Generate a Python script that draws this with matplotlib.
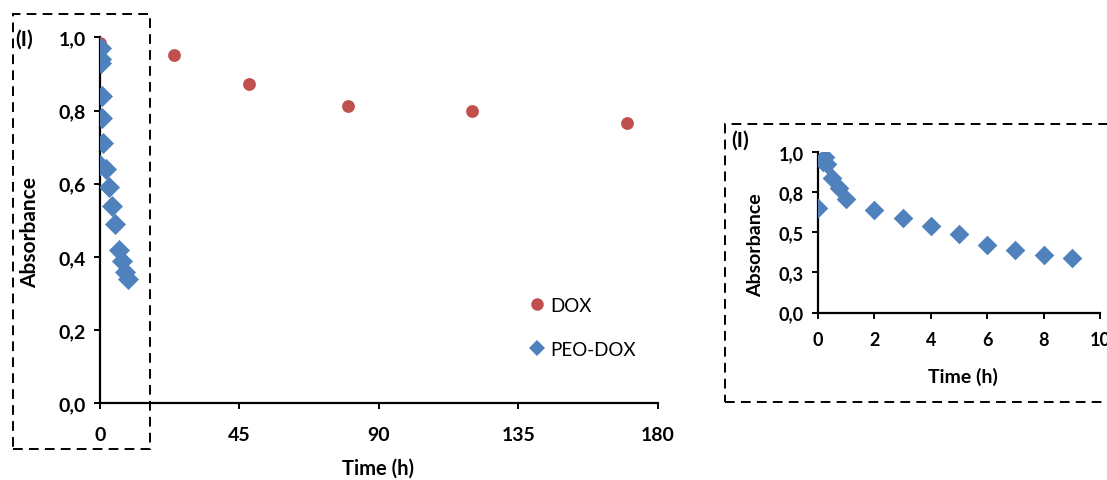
import matplotlib
matplotlib.use("Agg")
import matplotlib.pyplot as plt
from matplotlib.patches import Rectangle
from matplotlib.lines import Line2D
from decimal import Decimal, ROUND_HALF_UP

# Release data: absorbance over time
dox_time = [0, 24, 48, 80, 120, 170]
dox_abs = [0.985, 0.952, 0.872, 0.813, 0.798, 0.766]

peo_time = [0, 0.17, 0.25, 0.33, 0.5, 0.75, 1, 2, 3, 4, 5, 6, 7, 8, 9]
peo_abs = [0.65, 0.94, 0.97, 0.93, 0.84, 0.78, 0.71, 0.64, 0.59, 0.54,
           0.49, 0.42, 0.39, 0.36, 0.34]

main_xticks = [0, 45, 90, 135, 180]
main_yticks = [0.0, 0.2, 0.4, 0.6, 0.8, 1.0]
inset_xticks = [0, 2, 4, 6, 8, 10]
inset_yticks = [0.0, 0.25, 0.5, 0.75, 1.0]

RED = "#C0504D"
BLUE = "#4F81BD"
FONT = "Lato"

plt.rcParams["font.family"] = [FONT, "DejaVu Sans"]

W, H = 1107, 481
fig = plt.figure(figsize=(W / 100, H / 100), dpi=100)


def px_axes(left, top, right, bottom):
    return fig.add_axes([left / W, 1 - bottom / H, (right - left) / W, (bottom - top) / H])


def style_axes(ax, size):
    for s in ("top", "right"):
        ax.spines[s].set_visible(False)
    for s in ("left", "bottom"):
        ax.spines[s].set_linewidth(1.6)
        ax.spines[s].set_color("black")
    ax.tick_params(direction="out", length=4, width=1.4, colors="black",
                   labelsize=size, pad=6)
    for lbl in ax.get_xticklabels() + ax.get_yticklabels():
        lbl.set_fontweight("bold")


def comma(v, nd=1):
    q = Decimal(str(v)).quantize(Decimal(1).scaleb(-nd), rounding=ROUND_HALF_UP)
    return str(q).replace(".", ",")


# Main chart
ax = px_axes(100, 38.3, 657.7, 404.3)
ax.scatter(dox_time, dox_abs, s=85, marker="o", color=RED, zorder=3, linewidths=0)
ax.scatter(peo_time, peo_abs, s=115, marker="D", color=BLUE, zorder=4, linewidths=0)
ax.set_xlim(0, 180)
ax.set_ylim(0, 1.0)
ax.set_xticks(main_xticks)
ax.set_xticklabels([str(t) for t in main_xticks])
ax.set_yticks(main_yticks)
ax.set_yticklabels([comma(t) for t in main_yticks])
style_axes(ax, 14)
ax.xaxis.set_tick_params(pad=12)

fig.text(378 / W, 1 - 469 / H, "Time (h)", ha="center", va="center",
         fontsize=14.5, fontweight="bold")
fig.text(30 / W, 1 - 232 / H, "Absorbance", ha="center", va="center",
         rotation=90, fontsize=15, fontweight="bold")
fig.text(24 / W, 1 - 40 / H, "(I)", ha="center", va="center",
         fontsize=15, fontweight="bold")

handles = [
    Line2D([], [], linestyle="none", marker="o", markersize=9,
           markerfacecolor=RED, markeredgewidth=0),
    Line2D([], [], linestyle="none", marker="D", markersize=8.5,
           markerfacecolor=BLUE, markeredgewidth=0),
]
fig.legend(handles, ["DOX", "PEO-DOX"], loc="upper left",
           bbox_to_anchor=(522 / W, 1 - 290 / H), frameon=False,
           prop={"family": FONT, "size": 13.5}, handlelength=0.8,
           handletextpad=0.3, labelspacing=1.45, borderaxespad=0)

# Inset: first hours of PEO-DOX
ax2 = px_axes(818, 153.3, 1100, 313.5)
ax2.scatter(peo_time, peo_abs, s=100, marker="D", color=BLUE, zorder=4, linewidths=0)
ax2.set_xlim(0, 10)
ax2.set_ylim(0, 1.0)
ax2.set_xticks(inset_xticks)
ax2.set_xticklabels([str(t) for t in inset_xticks])
ax2.set_yticks(inset_yticks)
ax2.set_yticklabels([comma(t) for t in inset_yticks])
style_axes(ax2, 13)
ax2.xaxis.set_tick_params(pad=9)

fig.text(963 / W, 1 - 377 / H, "Time (h)", ha="center", va="center",
         fontsize=14, fontweight="bold")
fig.text(756 / W, 1 - 245 / H, "Absorbance", ha="center", va="center",
         rotation=90, fontsize=14, fontweight="bold")
fig.text(740 / W, 1 - 141 / H, "(I)", ha="center", va="center",
         fontsize=15, fontweight="bold")

# Dashed frames
for (l, t, r, b) in [(13, 15, 150, 450), (725, 125, 1130, 403)]:
    fig.patches.append(Rectangle((l / W, 1 - b / H), (r - l) / W, (b - t) / H,
                                 transform=fig.transFigure, fill=False,
                                 edgecolor="black", linewidth=1.4,
                                 linestyle=(0, (5, 3.2)), clip_on=False))

fig.savefig("out.png", dpi=100)
